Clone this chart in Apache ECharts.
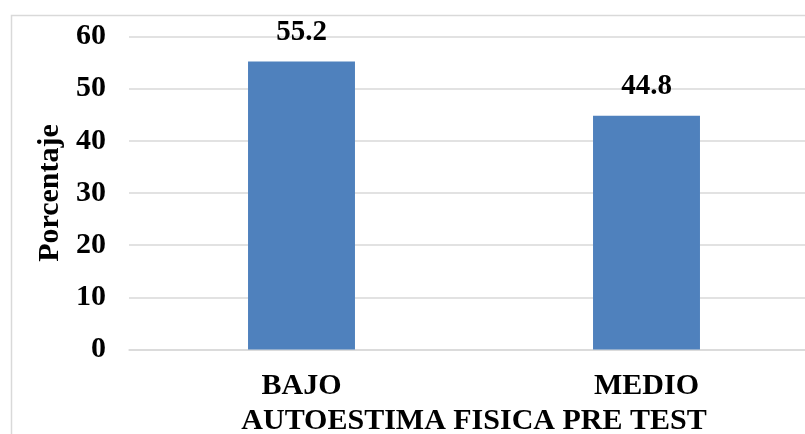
<!DOCTYPE html>
<html><head><meta charset="utf-8">
<script src="https://cdn.jsdelivr.net/npm/echarts@6/dist/echarts.min.js"></script>
<style>html,body{margin:0;padding:0;background:#fff;overflow:hidden}#c{width:805px;height:434px}</style>
</head><body><div id="c"></div>
<script>
const categories = ['BAJO', 'MEDIO'];
const values = [55.2, 44.8];
const yTicks = [0, 10, 20, 30, 40, 50, 60];
const xTitle = 'AUTOESTIMA FISICA PRE TEST';
const yTitle = 'Porcentaje';

const font = 'Liberation Serif, Times New Roman, serif';
const chart = echarts.init(document.getElementById('c'), null, {renderer: 'canvas'});
chart.setOption({
  animation: false,
  backgroundColor: '#fff',
  graphic: [{
    type: 'rect', left: 9, top: 13, shape: {width: 830, height: 500},
    style: {fill: 'none', stroke: '#d9d9d9', lineWidth: 1.5}, silent: true, z: -1
  }],
  grid: {left: 129, width: 690, top: 36.5, height: 313, containLabel: false, outerBoundsMode: 'none'},
  xAxis: {
    type: 'category', data: categories,
    axisLine: {show: true, lineStyle: {color: '#d9d9d9', width: 1.5}},
    axisTick: {show: false},
    axisLabel: {fontFamily: font, fontWeight: 'bold', fontSize: 30, color: '#000', margin: 22},
    name: xTitle, nameLocation: 'middle', nameGap: 55,
    nameTextStyle: {fontFamily: font, fontWeight: 'bold', fontSize: 30, color: '#000'}
  },
  yAxis: {
    type: 'value', min: yTicks[0], max: yTicks[yTicks.length - 1], interval: 10,
    axisLine: {show: false}, axisTick: {show: false},
    splitLine: {lineStyle: {color: '#d9d9d9', width: 1.5}},
    axisLabel: {fontFamily: font, fontWeight: 'bold', fontSize: 30, color: '#000', margin: 23},
    name: yTitle, nameLocation: 'middle', nameGap: 64, nameRotate: 90,
    nameTextStyle: {fontFamily: font, fontWeight: 'bold', fontSize: 30, color: '#000'}
  },
  series: [{
    type: 'bar', data: values, barWidth: '31%',
    itemStyle: {color: '#4f81bd'},
    label: {show: true, position: 'top', distance: 15, fontFamily: font, fontWeight: 'bold', fontSize: 29, color: '#000',
      formatter: p => p.value.toFixed(1)}
  }]
});
</script></body></html>
